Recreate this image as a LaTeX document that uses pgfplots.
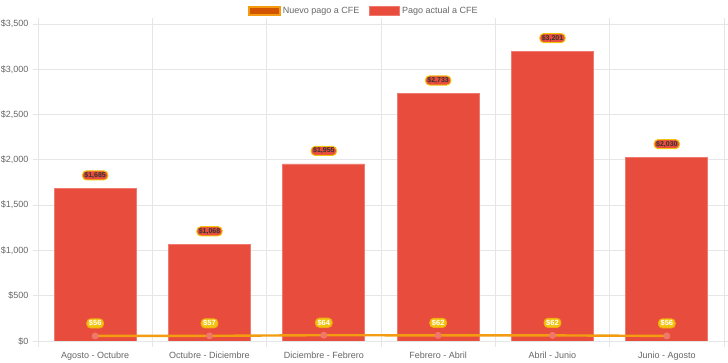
\documentclass[border=0pt]{standalone}
\usepackage{pgfplots}
\pgfplotsset{compat=1.18}
\usepackage{fontspec}
\setmainfont{Liberation Sans}
\definecolor{barred}{HTML}{E74C3C}
\definecolor{baredge}{HTML}{EF7A6E}
\definecolor{lineor}{HTML}{F39C12}
\definecolor{darkor}{HTML}{D35400}
\definecolor{labyel}{HTML}{F1C40F}
\definecolor{txtgray}{HTML}{666666}
\definecolor{gridc}{HTML}{E6E6E6}
\definecolor{ptfill}{HTML}{F0786A}
\definecolor{labtxt}{HTML}{333333}
\begin{document}
\begin{tikzpicture}
\path[use as bounding box] (0,0) rectangle (728bp,363bp);
\begin{axis}[
  at={(38bp,22bp)}, anchor=south west,
  scale only axis, width=686bp, height=317bp,
  /pgf/number format/assume math mode=true,
  xmin=-0.5, xmax=5.5, ymin=0, ymax=3500,
  xtick={0,...,5},
  xticklabels={Agosto - Octubre, Octubre - Diciembre, Diciembre - Febrero, Febrero - Abril, Abril - Junio, Junio - Agosto},
  minor xtick={-0.5,0.5,...,5.5},
  ytick={0,500,...,3500},
  yticklabels={{\$0},{\$500},{\$1,000},{\$1,500},{\$2,000},{\$2,500},{\$3,000},{\$3,500}},
  tick align=outside,
  major tick length=5bp, minor tick length=6bp,
  xtick style={draw=none},
  minor x tick style={draw=gridc, line width=0.8bp},
  ytick style={draw=gridc, line width=0.8bp},
  xminorgrids, ymajorgrids,
  minor grid style={draw=gridc, line width=0.8bp},
  major grid style={draw=gridc, line width=0.8bp},
  axis line style={draw=gridc, line width=0.8bp},
  ticklabel style={font=\fontsize{9bp}{10bp}\selectfont, text=txtgray},
  xticklabel style={yshift=-2bp},
  yticklabel style={xshift=-1bp},
  legend style={at={(0.4752,1.041)}, anchor=center, draw=none, fill=none,
    legend columns=2, font=\fontsize{9bp}{10bp}\selectfont, text=txtgray,
    /tikz/every even column/.append style={column sep=8bp},
    inner sep=0pt},
  legend cell align=left,
]
\addlegendimage{legend image code/.code={\draw[fill=darkor, draw=lineor, line width=1.5bp] (0bp,-4.2bp) rectangle (31bp,4.2bp);}}
\addlegendentry{Nuevo pago a CFE}
\addlegendimage{legend image code/.code={\draw[fill=barred, draw=baredge, line width=0.8bp] (0bp,-4.2bp) rectangle (30bp,4.2bp);}}
\addlegendentry{Pago actual a CFE}

\addplot[ybar, bar width=82bp, fill=barred, draw=baredge, line width=0.8bp, forget plot,
  nodes near coords={\$\pgfmathprintnumber[1000 sep={,}]{\pgfplotspointmeta}},
  every node near coord/.append style={anchor=center, yshift=13bp,
    font=\bfseries\fontsize{7bp}{8bp}\selectfont, text=labtxt,
    fill=barred, draw=labyel, line width=1bp, rounded corners=4bp,
    inner xsep=2bp, inner ysep=1.4bp}]
coordinates {(0,1685) (1,1068) (2,1955) (3,2733) (4,3201) (5,2030)};

\addplot[color=lineor, line width=2.4bp, mark=*, mark size=3bp, forget plot,
  mark options={fill=ptfill, draw=baredge, line width=0.8bp},
  nodes near coords={\$\pgfmathprintnumber{\pgfplotspointmeta}},
  every node near coord/.append style={anchor=center, yshift=12.5bp,
    font=\bfseries\fontsize{7.5bp}{8.5bp}\selectfont, text=white,
    fill=labyel, draw=lineor!70!labyel, line width=0.8bp, rounded corners=4bp,
    inner xsep=2.2bp, inner ysep=1.6bp}]
coordinates {(0,56) (1,57) (2,64) (3,62) (4,62) (5,56)};
\end{axis}
\end{tikzpicture}
\end{document}
